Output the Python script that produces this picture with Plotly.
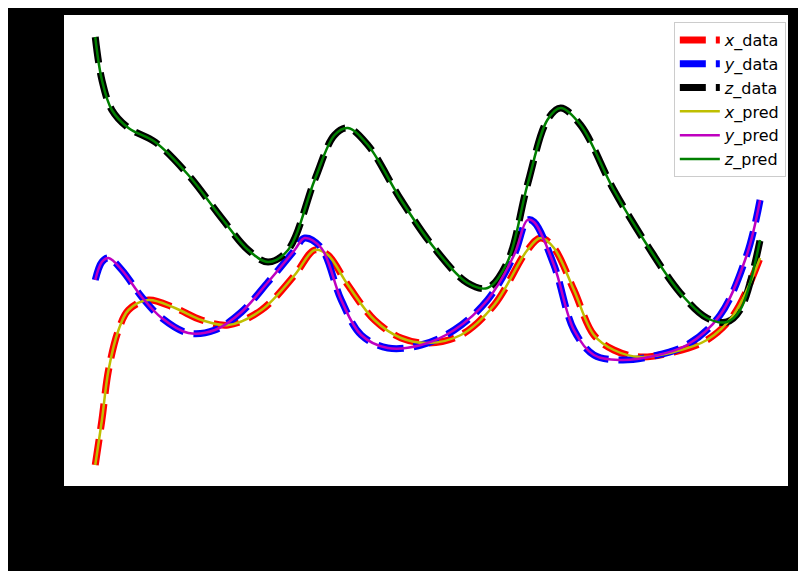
import plotly.graph_objects as go

# time samples and read-off values (arbitrary units)
t_x = [0, 0.1, 0.2, 0.35, 0.5, 0.8, 1.2, 1.6, 2.0, 2.5, 3.0, 3.3, 3.5, 3.8, 4.2, 4.6, 5.0, 5.5,
       6.0, 6.5, 6.7, 6.9, 7.2, 7.5, 7.8, 8.2, 8.7, 9.2, 9.6, 10]
x_px = [465, 420, 370, 330, 310, 300, 308, 320, 325, 310, 275, 250, 255, 285, 320, 338, 343, 335,
        305, 250, 238, 248, 290, 335, 350, 357, 352, 340, 315, 258]

t_y = [0, 0.1, 0.2, 0.4, 0.7, 1.0, 1.4, 1.8, 2.2, 2.6, 3.0, 3.15, 3.4, 3.7, 4.0, 4.4, 4.9, 5.4,
       5.9, 6.3, 6.5, 6.6, 6.9, 7.2, 7.5, 7.9, 8.4, 8.9, 9.4, 9.8, 10]
y_px = [280, 262, 258, 270, 297, 318, 333, 330, 312, 282, 250, 238, 248, 300, 335, 348, 345, 330,
        300, 255, 220, 222, 265, 330, 355, 360, 356, 345, 315, 255, 200]

t_z = [0, 0.1, 0.25, 0.5, 0.9, 1.4, 1.9, 2.3, 2.6, 2.9, 3.3, 3.6, 3.8, 4.1, 4.6, 5.1, 5.6, 5.9,
       6.2, 6.5, 6.8, 7.0, 7.3, 7.8, 8.3, 8.8, 9.2, 9.5, 9.7, 10]
z_px = [37, 80, 110, 128, 142, 175, 218, 250, 262, 250, 180, 135, 128, 145, 200, 248, 283, 288,
        262, 185, 120, 108, 125, 190, 245, 293, 318, 322, 310, 240]

x_vals = [(486 - p) / 100 for p in x_px]
y_vals = [(486 - p) / 100 for p in y_px]
z_vals = [(486 - p) / 100 for p in z_px]

fig = go.Figure()
for t, v, c, n in [(t_x, x_vals, "#ff0000", "<i>x</i>_data"),
                   (t_y, y_vals, "#0000ff", "<i>y</i>_data"),
                   (t_z, z_vals, "#000000", "<i>z</i>_data")]:
    fig.add_trace(go.Scatter(x=t, y=v, mode="lines", name=n,
                             line=dict(color=c, width=7, dash="26px,10px", shape="spline")))
for t, v, c, n in [(t_x, x_vals, "#bfbf00", "<i>x</i>_pred"),
                   (t_y, y_vals, "#bf00bf", "<i>y</i>_pred"),
                   (t_z, z_vals, "#007f00", "<i>z</i>_pred")]:
    fig.add_trace(go.Scatter(x=t, y=v, mode="lines", name=n,
                             line=dict(color=c, width=2.5, shape="spline")))

fig.update_layout(
    width=806, height=571,
    paper_bgcolor="black", plot_bgcolor="white",
    margin=dict(l=56, r=26, t=7, b=93),
    font=dict(family="DejaVu Sans", size=16, color="black"),
    legend=dict(x=0.997, y=0.985, xanchor="right", yanchor="top",
                bgcolor="white", bordercolor="#cccccc", borderwidth=1,
                tracegroupgap=6, itemwidth=40),
)
fig.update_xaxes(range=[-0.47, 10.42], showgrid=False, zeroline=False,
                 showline=True, linecolor="black", mirror=True, tickcolor="black",
                 ticks="outside", tickfont=dict(color="black"))
fig.update_yaxes(range=[0, 4.71], showgrid=False, zeroline=False,
                 showline=True, linecolor="black", mirror=True, tickcolor="black",
                 ticks="outside", tickfont=dict(color="black"))

fig.write_html("out.html")
